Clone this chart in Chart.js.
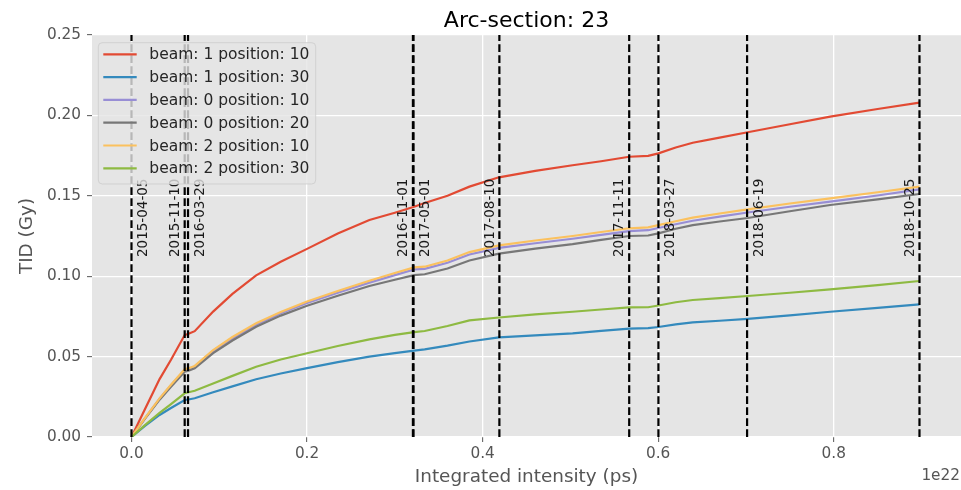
<!DOCTYPE html>
<html>
<head>
<meta charset="utf-8">
<script src="https://cdn.jsdelivr.net/npm/chart.js@4.4.0/dist/chart.umd.min.js"></script>
<style>
html,body{margin:0;padding:0;background:#fff;}
canvas{display:block;}
</style>
</head>
<body>
<canvas id="c" width="961" height="490"></canvas>
<script>
// ---- data ----
const chartTitle = 'Arc-section: 23';
const xLabel = 'Integrated intensity (ps)';
const yLabel = 'TID (Gy)';
const xOffsetText = '1e22';

const intensity = [0, 0.015, 0.032, 0.045, 0.0606, 0.065, 0.072, 0.093, 0.115, 0.142, 0.17, 0.2, 0.235, 0.271, 0.3, 0.322, 0.334, 0.36, 0.385, 0.4186, 0.46, 0.5025, 0.535, 0.567, 0.5886, 0.6003, 0.62, 0.6394, 0.67, 0.702, 0.75, 0.796, 0.85, 0.8977];

const seriesNames = ['beam: 1 position: 10', 'beam: 1 position: 30', 'beam: 0 position: 10', 'beam: 0 position: 20', 'beam: 2 position: 10', 'beam: 2 position: 30'];

const beam1pos10 = [0, 0.017, 0.036, 0.048, 0.0634, 0.0642, 0.0658, 0.078, 0.089, 0.1005, 0.109, 0.117, 0.1265, 0.135, 0.1395, 0.1432, 0.1455, 0.150, 0.1557, 0.1615, 0.1655, 0.169, 0.1715, 0.1743, 0.1748, 0.1764, 0.1800, 0.1830, 0.1862, 0.1895, 0.1945, 0.1992, 0.2040, 0.2079];
const beam1pos30 = [0, 0.0068, 0.0137, 0.0180, 0.0230, 0.0233, 0.0241, 0.0278, 0.0315, 0.0359, 0.0395, 0.0428, 0.0466, 0.0500, 0.0522, 0.0537, 0.0545, 0.0568, 0.0594, 0.0619, 0.0632, 0.0645, 0.0660, 0.0674, 0.0677, 0.0684, 0.0700, 0.0713, 0.0723, 0.0734, 0.0756, 0.0779, 0.0803, 0.0825];
const beam0pos10 = [0, 0.0114, 0.0238, 0.0322, 0.0417, 0.0424, 0.0438, 0.0535, 0.0614, 0.0698, 0.0769, 0.0833, 0.0897, 0.0960, 0.1007, 0.1042, 0.1046, 0.1084, 0.1135, 0.1176, 0.1205, 0.1233, 0.1257, 0.1280, 0.1286, 0.1300, 0.1323, 0.1345, 0.1370, 0.1396, 0.1432, 0.1464, 0.1502, 0.1540];
const beam0pos20 = [0, 0.0111, 0.0232, 0.0313, 0.0406, 0.0413, 0.0428, 0.0522, 0.0600, 0.0686, 0.0755, 0.0816, 0.0878, 0.0939, 0.0978, 0.1007, 0.1012, 0.1048, 0.1098, 0.1140, 0.1172, 0.1200, 0.1226, 0.1250, 0.1253, 0.1266, 0.1295, 0.1318, 0.1340, 0.1362, 0.1404, 0.1443, 0.1478, 0.1511];
const beam2pos10 = [0, 0.0115, 0.0240, 0.0325, 0.0421, 0.0428, 0.0442, 0.0541, 0.0622, 0.0707, 0.0778, 0.0843, 0.0908, 0.0972, 0.1020, 0.1055, 0.1059, 0.1098, 0.1150, 0.1192, 0.1222, 0.1250, 0.1275, 0.1298, 0.1304, 0.1318, 0.1342, 0.1364, 0.1390, 0.1416, 0.1452, 0.1484, 0.1522, 0.1557];
const beam2pos30 = [0, 0.0072, 0.0150, 0.0205, 0.0272, 0.0278, 0.0288, 0.0333, 0.0380, 0.0437, 0.0482, 0.0521, 0.0566, 0.0607, 0.0635, 0.0652, 0.0659, 0.0690, 0.0725, 0.0743, 0.0762, 0.0779, 0.0793, 0.0806, 0.0807, 0.0818, 0.0838, 0.0852, 0.0864, 0.0877, 0.0897, 0.0918, 0.0945, 0.0970];

const dateLabels = ['2015-04-05', '2015-11-10', '2016-03-29', '2016-11-01', '2017-05-01', '2017-08-10', '2017-11-11', '2018-03-27', '2018-06-19', '2018-10-25'];
const dateIntensity = [0.0, 0.0606, 0.0644, 0.3206, 0.3213, 0.4191, 0.567, 0.6003, 0.7013, 0.8977];
const dateLabelSide = [1, -1, 1, -1, 1, -1, -1, 1, 1, -1];

const xTicks = [0.0, 0.2, 0.4, 0.6, 0.8];
const yTicks = [0.00, 0.05, 0.10, 0.15, 0.20, 0.25];

// ---- style ----
const colors = ['#E24A33', '#348ABD', '#988ED5', '#777777', '#FBC15E', '#8EBA42'];
const FONT = 'DejaVu Sans';
const seriesValues = [beam1pos10, beam1pos30, beam0pos10, beam0pos20, beam2pos10, beam2pos30];

const datasets = [];
seriesValues.forEach((vals, i) => {
  datasets.push({
    label: seriesNames[i],
    data: intensity.map((x, k) => ({x: x, y: vals[k]})),
    borderColor: colors[i],
    backgroundColor: colors[i],
    borderWidth: 2.2,
    pointRadius: 0,
    tension: 0,
    fill: false,
    order: 10 - i
  });
});
dateIntensity.forEach((x, i) => {
  datasets.push({
    label: dateLabels[i],
    data: [{x: x, y: yTicks[0]}, {x: x, y: yTicks[yTicks.length - 1]}],
    borderColor: '#000000',
    borderWidth: 2.2,
    borderDash: [7.7, 3.3],
    pointRadius: 0,
    fill: false,
    order: 0
  });
});

const bgPlugin = {
  id: 'bg',
  beforeDraw(chart) {
    const ctx = chart.ctx, a = chart.chartArea;
    ctx.save();
    ctx.fillStyle = '#ffffff';
    ctx.fillRect(0, 0, chart.width, chart.height);
    ctx.fillStyle = '#E5E5E5';
    ctx.fillRect(a.left, a.top, a.right - a.left, a.bottom - a.top);
    ctx.restore();
  }
};

const annoPlugin = {
  id: 'anno',
  afterDatasetsDraw(chart) {
    const ctx = chart.ctx, xs = chart.scales.x;
    ctx.save();
    ctx.font = '13.5px "' + FONT + '"';
    ctx.fillStyle = '#1a1a1a';
    ctx.textAlign = 'left';
    ctx.textBaseline = 'alphabetic';
    dateLabels.forEach((lab, i) => {
      const px = xs.getPixelForValue(dateIntensity[i]);
      const bx = dateLabelSide[i] > 0 ? px + 15.6 : px - 5.8;
      ctx.save();
      ctx.translate(bx, 257);
      ctx.rotate(-Math.PI / 2);
      ctx.fillText(lab, 0, 0);
      ctx.restore();
    });
    ctx.restore();
  },
  afterDraw(chart) {
    const ctx = chart.ctx, a = chart.chartArea;
    ctx.save();
    // title
    ctx.fillStyle = '#000000';
    ctx.font = '22px "' + FONT + '"';
    ctx.textAlign = 'center';
    ctx.textBaseline = 'alphabetic';
    ctx.fillText(chartTitle, (a.left + a.right) / 2, 26.5);
    // x label
    ctx.fillStyle = '#555555';
    ctx.font = '18.4px "' + FONT + '"';
    ctx.fillText(xLabel, (a.left + a.right) / 2, 482);
    // y label
    ctx.save();
    ctx.translate(32, (a.top + a.bottom) / 2);
    ctx.rotate(-Math.PI / 2);
    ctx.fillText(yLabel, 0, 0);
    ctx.restore();
    // offset text
    ctx.font = '15.3px "' + FONT + '"';
    ctx.textAlign = 'right';
    ctx.fillText(xOffsetText, 960, 480);
    // legend
    const lx = 98.3, ly = 42.7, lw = 217.4, lh = 141.3, r = 4;
    ctx.beginPath();
    ctx.moveTo(lx + r, ly);
    ctx.lineTo(lx + lw - r, ly);
    ctx.arcTo(lx + lw, ly, lx + lw, ly + r, r);
    ctx.lineTo(lx + lw, ly + lh - r);
    ctx.arcTo(lx + lw, ly + lh, lx + lw - r, ly + lh, r);
    ctx.lineTo(lx + r, ly + lh);
    ctx.arcTo(lx, ly + lh, lx, ly + lh - r, r);
    ctx.lineTo(lx, ly + r);
    ctx.arcTo(lx, ly, lx + r, ly, r);
    ctx.closePath();
    ctx.fillStyle = 'rgba(229,229,229,0.8)';
    ctx.fill();
    ctx.strokeStyle = 'rgba(204,204,204,0.8)';
    ctx.lineWidth = 1;
    ctx.stroke();
    ctx.font = '15.5px "' + FONT + '"';
    ctx.textAlign = 'left';
    ctx.textBaseline = 'middle';
    seriesNames.forEach((name, i) => {
      const cy = 54.3 + i * 22.8;
      ctx.strokeStyle = colors[i];
      ctx.lineWidth = 2.2;
      ctx.beginPath();
      ctx.moveTo(103.3, cy);
      ctx.lineTo(136.7, cy);
      ctx.stroke();
      ctx.fillStyle = '#262626';
      ctx.fillText(name, 149.3, cy + 1);
    });
    ctx.restore();
  }
};

new Chart(document.getElementById('c'), {
  type: 'line',
  data: {datasets: datasets},
  options: {
    responsive: false,
    devicePixelRatio: 1,
    animation: false,
    layout: {padding: {top: 35, right: 0, left: 0, bottom: 0}},
    plugins: {legend: {display: false}, tooltip: {enabled: false}, title: {display: false}},
    scales: {
      x: {
        type: 'linear',
        min: -0.045,
        max: 0.945,
        afterBuildTicks: s => { s.ticks = xTicks.map(v => ({value: v})); },
        afterFit: s => { s.height = 53; },
        border: {display: false},
        grid: {color: '#ffffff', lineWidth: 1.3, tickColor: '#555555', tickLength: 5, tickWidth: 1},
        ticks: {color: '#555555', font: {family: FONT, size: 15.3}, padding: 3, maxRotation: 0, autoSkip: false,
                callback: v => Number(v).toFixed(1)}
      },
      y: {
        type: 'linear',
        min: 0,
        max: 0.25,
        afterBuildTicks: s => { s.ticks = yTicks.map(v => ({value: v})); },
        afterFit: s => { s.width = 92; },
        border: {display: false},
        grid: {color: '#ffffff', lineWidth: 1.3, tickColor: '#555555', tickLength: 5, tickWidth: 1},
        ticks: {color: '#555555', font: {family: FONT, size: 15.3}, padding: 6, autoSkip: false,
                callback: v => Number(v).toFixed(2)}
      }
    }
  },
  plugins: [bgPlugin, annoPlugin]
});
</script>
</body>
</html>
